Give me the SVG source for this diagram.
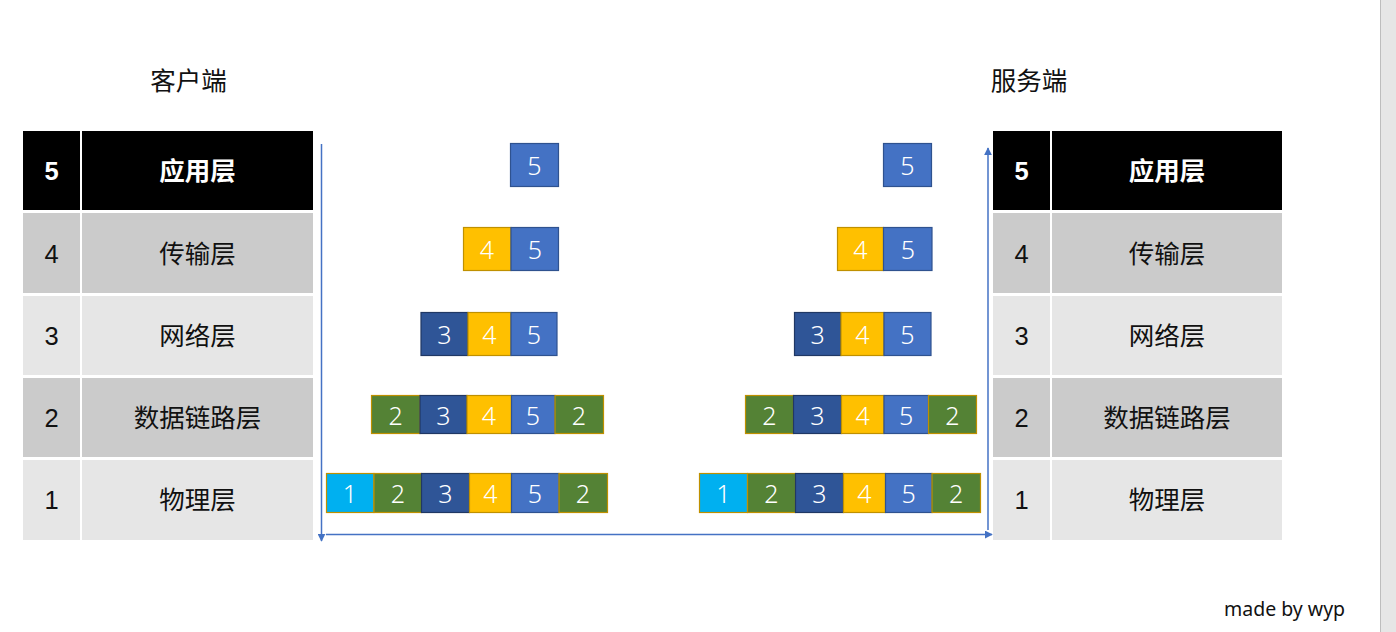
<svg xmlns="http://www.w3.org/2000/svg" width="1396" height="632" viewBox="0 0 1396 632">
<defs>
<style>
.t{font-family:"Liberation Sans","Noto Sans CJK SC",sans-serif;font-size:25.5px;text-anchor:middle;dominant-baseline:central;fill:#111}
.tb{font-weight:bold;fill:#fff}
.n{font-family:"Noto Sans","Liberation Sans",sans-serif;font-size:25px;font-weight:300;fill:#fff;text-anchor:middle;dominant-baseline:central}
.h{font-family:"Noto Sans CJK SC",sans-serif;font-size:25.5px;text-anchor:middle;fill:#111}
.b5{fill:#4472c4;stroke:#2f528f;stroke-width:1.2}
.b4{fill:#ffc000;stroke:#bf9000;stroke-width:1.2}
.b3{fill:#2f5597;stroke:#203864;stroke-width:1.2}
.b2{fill:#548235;stroke:#bf9000;stroke-width:1.2}
.b1{fill:#00b0f0;stroke:#bf9000;stroke-width:1.2}
.ln{stroke:#4472c4;stroke-width:1.5;fill:none}
</style>
<marker id="ah" viewBox="0 0 10 10" refX="9" refY="5" markerWidth="8" markerHeight="8" markerUnits="userSpaceOnUse" orient="auto"><path d="M0,0 L10,5 L0,10 z" fill="#4472c4"/></marker>
</defs>
<rect width="1396" height="632" fill="#fff"/>
<rect x="1381" y="0" width="15" height="632" fill="#e6e6e6"/>
<line x1="1380.5" y1="0" x2="1380.5" y2="632" stroke="#bdbdbd" stroke-width="1"/>

<text class="h" x="188.5" y="90">客户端</text>
<text class="h" x="1029" y="90">服务端</text>

<g id="client-table">
<rect x="23" y="131" width="57" height="79" fill="#000"/><rect x="82" y="131" width="231" height="79" fill="#000"/>
<text class="t tb" x="51.5" y="171">5</text><text class="t tb" x="197.5" y="171">应用层</text>
<rect x="23" y="213" width="57" height="80" fill="#cbcbcb"/><rect x="82" y="213" width="231" height="80" fill="#cbcbcb"/>
<text class="t" x="51.5" y="253.5">4</text><text class="t" x="197.5" y="253.5">传输层</text>
<rect x="23" y="296" width="57" height="79" fill="#e6e6e6"/><rect x="82" y="296" width="231" height="79" fill="#e6e6e6"/>
<text class="t" x="51.5" y="335.5">3</text><text class="t" x="197.5" y="335.5">网络层</text>
<rect x="23" y="378" width="57" height="79" fill="#cbcbcb"/><rect x="82" y="378" width="231" height="79" fill="#cbcbcb"/>
<text class="t" x="51.5" y="417.5">2</text><text class="t" x="197.5" y="417.5">数据链路层</text>
<rect x="23" y="460" width="57" height="80" fill="#e6e6e6"/><rect x="82" y="460" width="231" height="80" fill="#e6e6e6"/>
<text class="t" x="51.5" y="500">1</text><text class="t" x="197.5" y="500">物理层</text>
</g>

<g id="server-table">
<rect x="993" y="131" width="57" height="79" fill="#000"/><rect x="1052" y="131" width="230" height="79" fill="#000"/>
<text class="t tb" x="1021.5" y="171">5</text><text class="t tb" x="1167" y="171">应用层</text>
<rect x="993" y="213" width="57" height="80" fill="#cbcbcb"/><rect x="1052" y="213" width="230" height="80" fill="#cbcbcb"/>
<text class="t" x="1021.5" y="253.5">4</text><text class="t" x="1167" y="253.5">传输层</text>
<rect x="993" y="296" width="57" height="79" fill="#e6e6e6"/><rect x="1052" y="296" width="230" height="79" fill="#e6e6e6"/>
<text class="t" x="1021.5" y="335.5">3</text><text class="t" x="1167" y="335.5">网络层</text>
<rect x="993" y="378" width="57" height="79" fill="#cbcbcb"/><rect x="1052" y="378" width="230" height="79" fill="#cbcbcb"/>
<text class="t" x="1021.5" y="417.5">2</text><text class="t" x="1167" y="417.5">数据链路层</text>
<rect x="993" y="460" width="57" height="80" fill="#e6e6e6"/><rect x="1052" y="460" width="230" height="80" fill="#e6e6e6"/>
<text class="t" x="1021.5" y="500">1</text><text class="t" x="1167" y="500">物理层</text>
</g>

<g id="client-packets">
<rect class="b5" x="510.5" y="143.5" width="48" height="43"/><text class="n" x="534.5" y="165">5</text>

<rect class="b4" x="463.5" y="227.5" width="47.5" height="43"/><text class="n" x="487" y="249">4</text>
<rect class="b5" x="511" y="227.5" width="47.5" height="43"/><text class="n" x="535" y="249">5</text>

<rect class="b3" x="421" y="312.5" width="47" height="43"/><text class="n" x="444.5" y="334">3</text>
<rect class="b4" x="468" y="312.5" width="43" height="43"/><text class="n" x="489.5" y="334">4</text>
<rect class="b5" x="511" y="312.5" width="46" height="43"/><text class="n" x="534" y="334">5</text>

<rect class="b2" x="371.5" y="395.5" width="48.5" height="38"/><text class="n" x="395.7" y="414.5">2</text>
<rect class="b3" x="420" y="395.5" width="47" height="38"/><text class="n" x="443.5" y="414.5">3</text>
<rect class="b4" x="467" y="395.5" width="44.5" height="38"/><text class="n" x="489" y="414.5">4</text>
<rect class="b5" x="511.5" y="395.5" width="43.5" height="38"/><text class="n" x="533" y="414.5">5</text>
<rect class="b2" x="555" y="395.5" width="48.5" height="38"/><text class="n" x="579" y="414.5">2</text>

<rect class="b1" x="326.5" y="473.5" width="47.5" height="39"/><text class="n" x="350" y="493">1</text>
<rect class="b2" x="374" y="473.5" width="47.5" height="39"/><text class="n" x="398" y="493">2</text>
<rect class="b3" x="421.5" y="473.5" width="48" height="39"/><text class="n" x="445.5" y="493">3</text>
<rect class="b4" x="469.5" y="473.5" width="42" height="39"/><text class="n" x="490.5" y="493">4</text>
<rect class="b5" x="511.5" y="473.5" width="47.5" height="39"/><text class="n" x="535" y="493">5</text>
<rect class="b2" x="559" y="473.5" width="48.5" height="39"/><text class="n" x="583" y="493">2</text>
</g>

<g id="server-packets">
<rect class="b5" x="883.5" y="143.5" width="48" height="43"/><text class="n" x="907.5" y="165">5</text>

<rect class="b4" x="837.5" y="227.5" width="46" height="43"/><text class="n" x="860.5" y="249">4</text>
<rect class="b5" x="883.5" y="227.5" width="48.5" height="43"/><text class="n" x="908" y="249">5</text>

<rect class="b3" x="794.5" y="312.5" width="46.5" height="43"/><text class="n" x="817.7" y="334">3</text>
<rect class="b4" x="841" y="312.5" width="43" height="43"/><text class="n" x="862.5" y="334">4</text>
<rect class="b5" x="884" y="312.5" width="47" height="43"/><text class="n" x="907.5" y="334">5</text>

<rect class="b2" x="745.5" y="395.5" width="48" height="38"/><text class="n" x="769.5" y="414.5">2</text>
<rect class="b3" x="793.5" y="395.5" width="48" height="38"/><text class="n" x="817.5" y="414.5">3</text>
<rect class="b4" x="841.5" y="395.5" width="42.5" height="38"/><text class="n" x="862.7" y="414.5">4</text>
<rect class="b5" x="884" y="395.5" width="44.5" height="38"/><text class="n" x="906.2" y="414.5">5</text>
<rect class="b2" x="928.5" y="395.5" width="48" height="38"/><text class="n" x="952.5" y="414.5">2</text>

<rect class="b1" x="699.5" y="473.5" width="48" height="39"/><text class="n" x="723.5" y="493">1</text>
<rect class="b2" x="747.5" y="473.5" width="48" height="39"/><text class="n" x="771.5" y="493">2</text>
<rect class="b3" x="795.5" y="473.5" width="48" height="39"/><text class="n" x="819.5" y="493">3</text>
<rect class="b4" x="843.5" y="473.5" width="42" height="39"/><text class="n" x="864.5" y="493">4</text>
<rect class="b5" x="885.5" y="473.5" width="46.5" height="39"/><text class="n" x="908.7" y="493">5</text>
<rect class="b2" x="932" y="473.5" width="48.5" height="39"/><text class="n" x="956.2" y="493">2</text>
</g>

<g id="connectors">
<line class="ln" x1="321.5" y1="144" x2="321.5" y2="541" marker-end="url(#ah)"/>
<line class="ln" x1="326" y1="534.5" x2="992" y2="534.5" marker-end="url(#ah)"/>
<line class="ln" x1="988" y1="530" x2="988" y2="148" marker-end="url(#ah)"/>
</g>

<text x="1224" y="616" font-family="Noto Sans,Open Sans,sans-serif" font-size="19.5" fill="#111">made by wyp</text>
</svg>
